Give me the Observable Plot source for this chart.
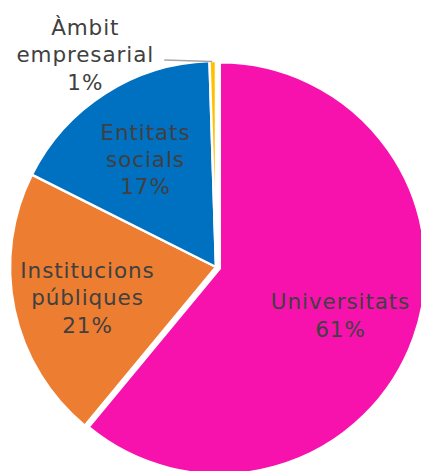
<!DOCTYPE html>
<html><head><meta charset="utf-8">
<script src="https://cdn.jsdelivr.net/npm/d3@7"></script>
<script src="https://cdn.jsdelivr.net/npm/@observablehq/plot@0.6"></script>
<style>body{margin:0;background:#fff;overflow:hidden} svg text{letter-spacing:0.9px}</style>
</head><body><div id="chart"></div>
<script>
const categories = ["Universitats", "Institucions públiques", "Entitats socials", "Àmbit empresarial"];
const labelLines = [["Universitats"], ["Institucions", "públiques"], ["Entitats", "socials"], ["Àmbit", "empresarial"]];
const values = [61.0, 21.4, 17.1, 0.5];
const colors = ["#F712AE", "#ED7D31", "#0070C0", "#FFC000"];

const W = 421, H = 471, cx = 216, cy = 267, R = 206;
const total = d3.sum(values);
const data = categories.map((c, i) => ({category: c, value: values[i], lines: labelLines[i]}));
const arcs = d3.pie().sort(null).value(d => d.value)(data);
const arcGen = d3.arc().innerRadius(0).outerRadius(R);
const labelArc = d3.arc().innerRadius(R * 0.64).outerRadius(R * 0.64);
const explode = [4, 0, 0, 0];
const color = d3.scaleOrdinal(categories, colors);

const labels = arcs.map((a, i) => {
  const [lx, ly] = labelArc.centroid(a);
  const text = a.data.lines.join("\n") + "\n" + Math.round(a.data.value / total * 100) + "%";
  const inside = a.data.value >= 5;
  const mid = (a.startAngle + a.endAngle) / 2;
  return {
    text,
    x: inside ? cx + lx : cx + Math.sin(mid) * R - 128,
    y: inside ? cy + ly + 2 : cy - Math.cos(mid) * R - 8,
    inside,
    ax: cx + Math.sin(mid) * R, ay: cy - Math.cos(mid) * R
  };
});
const outside = labels.filter(d => !d.inside);

const slices = () => {
  const g = d3.create("svg:g");
  g.selectAll("path").data(arcs).join("path")
    .attr("d", arcGen)
    .attr("fill", d => color(d.data.category))
    .attr("stroke", "#fff")
    .attr("stroke-width", 2.5)
    .attr("stroke-linejoin", "round")
    .attr("transform", (d, i) => {
      const m = (d.startAngle + d.endAngle) / 2;
      return `translate(${cx + Math.sin(m) * explode[i]},${cy - Math.cos(m) * explode[i]})`;
    });
  return g.node();
};

const chart = Plot.plot({
  width: W, height: H,
  margin: 0,
  x: {type: "identity", axis: null},
  y: {type: "identity", axis: null},
  style: {fontFamily: "'DejaVu Sans', sans-serif", background: "#fff"},
  marks: [
    slices,
    Plot.link(outside, {x1: d => d.ax - 1, y1: d => d.ay, x2: d => d.x + 79, y2: d => d.ay - 1.5, stroke: "#A6A6A6", strokeWidth: 1.5}),
    Plot.text(labels, {x: "x", y: "y", text: "text", fill: "#404040", fontSize: 21.5, lineHeight: 1.27, textAnchor: "middle"})
  ]
});
document.getElementById("chart").appendChild(chart);
</script>
</body></html>
